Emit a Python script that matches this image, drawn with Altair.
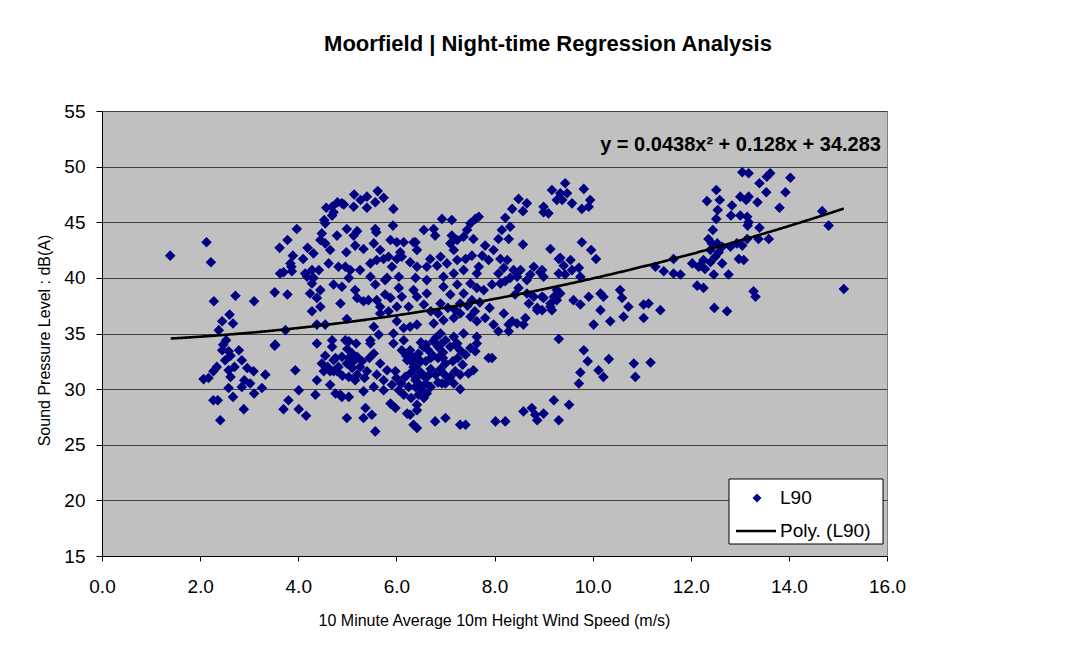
import altair as alt
import pandas as pd

# ---- data (wind speed m/s, L90 dB(A)) ----
band_below_4 = [
    (1.39, 42.0), (2.13, 43.2), (2.22, 41.4), (2.28, 37.9), (2.72, 38.4), (3.10, 37.9),
    (3.52, 38.7), (3.78, 38.5), (3.62, 42.7), (3.78, 43.4), (3.97, 44.4), (3.89, 42.0),
    (3.86, 41.0), (3.87, 40.6), (3.63, 40.4), (3.70, 40.5), (3.84, 41.3),
    (2.60, 36.7), (2.45, 36.1), (2.38, 35.3), (2.67, 35.9), (2.53, 34.4), (2.45, 33.5),
    (2.58, 33.4), (2.51, 32.6), (2.79, 33.5), (2.85, 32.6), (2.34, 32.0), (2.27, 31.6),
    (2.07, 30.9), (2.17, 31.0), (2.62, 31.1), (2.58, 31.7), (2.96, 31.9), (3.09, 31.6),
    (3.33, 31.3), (2.90, 30.8), (3.02, 30.5), (2.85, 30.2), (2.58, 30.1), (3.26, 30.1),
    (3.10, 29.6), (2.67, 29.3), (2.27, 29.0), (2.36, 29.0), (2.89, 28.2), (2.41, 27.2),
    (3.52, 33.9), (3.74, 35.3), (3.94, 31.7), (3.80, 29.0), (3.70, 28.2), (2.47, 34.0),
    (2.62, 33.0), (2.70, 32.0), (3.53, 34.0),
]
band_4_to_6 = [
    (4.01, 28.2), (4.16, 27.6), (4.01, 29.9), (4.10, 41.7), (4.19, 42.7), (4.31, 42.2),
    (4.57, 46.3), (4.53, 45.2), (4.72, 45.9), (4.80, 46.8), (4.93, 46.6), (4.69, 46.4),
    (4.89, 46.7), (4.69, 45.6), (4.55, 44.9), (4.48, 44.0), (4.45, 43.4), (4.55, 43.1),
    (4.65, 42.5), (4.79, 43.8), (4.99, 44.4), (5.20, 44.2), (5.13, 43.8),
    (5.14, 47.5), (5.40, 47.3), (5.62, 47.8), (5.74, 47.2), (5.57, 46.8), (5.13, 46.4),
    (5.40, 46.3), (5.94, 46.2), (5.27, 47.0), (5.93, 44.7), (5.57, 44.4), (5.59, 44.1),
    (4.98, 42.3), (5.16, 42.9), (5.33, 42.6), (5.54, 43.1), (5.67, 42.5), (5.88, 43.4),
    (4.28, 40.7), (4.42, 40.7), (4.62, 41.3), (4.14, 40.4), (4.31, 40.0), (4.24, 38.6),
    (4.45, 38.9), (4.38, 38.2), (4.28, 37.0), (4.45, 37.4), (4.86, 37.7), (4.72, 39.4),
    (4.89, 39.2), (4.96, 41.0), (4.82, 41.0), (5.06, 40.7), (5.26, 40.7), (5.47, 41.3),
    (5.60, 41.6), (5.74, 41.7), (5.84, 41.9), (5.91, 41.0), (5.81, 40.0),
    (4.18, 40.1), (4.28, 39.5), (5.03, 40.0), (5.16, 38.9), (5.47, 40.1), (5.57, 39.4),
    (5.77, 39.8), (5.88, 38.2), (5.77, 38.5), (5.20, 38.2), (5.43, 38.0), (5.60, 38.0),
    (5.67, 37.4), (4.38, 35.8), (4.55, 35.8), (4.99, 36.3), (5.33, 37.9), (5.67, 36.8),
    (5.84, 37.0), (5.54, 35.6), (5.64, 34.9), (5.47, 34.4), (5.94, 35.0),
    (4.38, 34.1), (4.69, 34.4), (4.69, 33.8), (5.03, 34.3), (5.18, 34.1), (5.10, 33.2),
    (5.47, 34.1), (5.54, 33.2), (5.94, 34.1), (4.48, 32.3), (4.76, 32.8), (4.72, 31.6),
    (4.86, 29.5), (4.76, 29.6), (4.99, 27.4), (4.96, 34.4), (4.99, 32.3), (4.38, 30.8),
    (4.35, 29.5), (4.72, 32.6), (4.89, 32.9), (5.03, 32.8), (5.13, 32.5), (4.82, 32.0),
    (5.10, 31.9), (5.26, 32.0), (5.40, 31.6), (5.03, 31.1), (5.20, 31.3), (4.52, 31.6),
    (4.65, 31.6), (4.79, 31.6), (5.16, 30.8), (5.67, 32.3), (5.81, 31.7), (5.98, 31.6),
    (5.74, 30.8), (5.91, 30.4), (4.89, 29.3), (5.03, 29.3), (5.33, 29.8), (5.54, 30.2),
    (5.74, 29.9), (5.37, 28.3), (5.50, 27.7), (5.33, 27.4), (5.57, 26.2), (5.88, 28.7),
    (5.98, 28.3), (4.60, 32.0), (4.90, 31.2), (5.30, 32.5), (5.00, 33.6), (4.55, 33.0),
    (5.20, 32.9), (5.35, 31.0), (4.65, 30.4), (5.45, 32.8), (5.60, 31.3),
]
band_6_to_8 = [
    (6.01, 43.2), (6.15, 43.2), (6.35, 43.2), (6.08, 42.3), (6.01, 41.7), (6.11, 41.9),
    (6.28, 41.4), (6.42, 41.0), (6.05, 40.1), (6.05, 39.1), (6.11, 38.3), (6.35, 38.9),
    (6.01, 37.4), (6.25, 37.4), (6.01, 36.1), (6.15, 35.5), (6.28, 35.6), (6.15, 34.4),
    (6.11, 33.5), (6.28, 33.1), (6.05, 29.9), (6.18, 31.1), (6.35, 32.0), (6.22, 32.6),
    (6.28, 33.5), (6.42, 32.8), (6.39, 30.8), (6.22, 27.8), (6.35, 26.8), (6.42, 28.6),
    (6.20, 33.0), (6.30, 32.5), (6.40, 32.0), (6.45, 33.2), (6.30, 31.5), (6.40, 31.0),
    (6.45, 30.5), (6.25, 30.2), (6.50, 32.5), (6.50, 31.5), (6.55, 33.8), (6.65, 33.5),
    (6.75, 33.0), (6.85, 32.8), (6.95, 33.3), (7.00, 32.3), (6.60, 32.5), (6.70, 31.8),
    (6.80, 31.3), (6.90, 31.8), (7.05, 31.0), (7.10, 33.8), (6.55, 31.2), (6.60, 30.5),
    (6.70, 30.2), (6.50, 30.0), (7.00, 30.5), (7.15, 32.5), (6.90, 34.0), (6.75, 34.3),
    (6.60, 34.0), (6.80, 34.6), (7.00, 34.4), (7.20, 34.0), (7.30, 33.5), (7.25, 32.8),
    (7.35, 32.2), (6.95, 32.8), (6.70, 32.8), (6.85, 33.8), (6.50, 34.2), (6.65, 31.2),
    (6.85, 30.6), (7.20, 31.6), (6.45, 29.5), (7.30, 30.0), (6.10, 30.5), (6.15, 29.5),
    (6.30, 29.2), (6.00, 31.0),
    (6.93, 45.3), (7.13, 45.2), (7.61, 45.3), (7.68, 45.5), (7.51, 44.9), (7.44, 44.3),
    (6.56, 44.3), (6.76, 44.4), (6.79, 43.8), (6.39, 43.2), (6.42, 42.5), (7.13, 43.8),
    (7.24, 43.4), (7.10, 43.1), (7.37, 43.7), (7.57, 43.5), (7.17, 42.5), (7.81, 42.9),
    (7.98, 42.5), (7.75, 42.0), (7.88, 41.6), (7.68, 41.0), (6.69, 41.7), (6.90, 41.9),
    (6.83, 41.1), (7.03, 41.3), (7.24, 41.6), (7.41, 41.7), (7.54, 42.0), (6.62, 41.0),
    (6.39, 40.0), (6.62, 39.8), (6.96, 40.1), (7.17, 40.4), (7.37, 40.7), (7.64, 40.4),
    (7.51, 39.5), (7.24, 39.4), (6.96, 39.2), (6.62, 38.6), (6.42, 38.3), (7.10, 38.5),
    (7.37, 38.6), (7.64, 39.1), (7.78, 38.9), (7.95, 39.4), (7.54, 38.0), (7.30, 37.7),
    (6.90, 37.7), (6.56, 37.6), (6.70, 37.0), (6.85, 36.8), (7.05, 37.3), (7.20, 37.1),
    (7.45, 37.5), (7.70, 37.8), (7.90, 37.3), (7.60, 37.0),
    (6.76, 35.9), (6.96, 36.2), (7.17, 36.4), (7.30, 36.8), (7.51, 36.5), (7.64, 36.1),
    (7.81, 36.4), (7.98, 35.8), (6.42, 35.8), (6.90, 35.0), (7.17, 34.7), (7.37, 35.0),
    (7.64, 34.7), (7.24, 34.1), (7.51, 33.7), (7.41, 33.1), (7.61, 33.4), (7.64, 34.1),
    (7.88, 32.8), (7.95, 32.8), (7.57, 31.7), (7.47, 31.4), (7.30, 31.3), (7.10, 31.1),
    (6.96, 31.4), (7.17, 30.5), (6.93, 30.5), (6.62, 29.6), (6.49, 30.1), (6.39, 30.2),
    (6.56, 29.2), (6.42, 28.1), (6.28, 27.7), (6.42, 26.5), (6.79, 27.1), (7.00, 27.4),
    (7.30, 26.8), (7.41, 26.8),
]
band_8_to_10 = [
    (9.17, 47.9), (9.27, 47.0), (8.49, 47.1), (8.66, 46.7), (8.58, 46.0), (8.36, 46.2),
    (8.22, 45.4), (9.00, 46.4), (9.10, 45.8), (8.32, 44.6), (8.15, 44.3), (8.29, 43.5),
    (8.08, 43.5), (8.58, 43.0), (9.14, 42.6), (9.31, 41.7), (8.12, 41.7), (8.26, 41.6),
    (8.19, 40.9), (8.08, 40.4), (8.53, 40.7), (8.32, 40.0), (8.66, 39.8), (8.80, 41.0),
    (8.97, 40.7), (8.49, 39.1), (8.12, 39.5), (8.66, 38.6), (8.97, 38.3), (9.14, 37.7),
    (9.27, 38.9), (9.27, 38.0), (9.44, 48.5), (9.82, 48.0), (9.34, 47.6), (9.48, 47.6),
    (9.38, 47.0), (9.58, 46.7), (9.95, 47.0), (9.78, 46.2), (9.92, 46.4), (9.00, 45.9),
    (9.78, 43.2), (9.97, 42.5), (9.34, 41.8), (9.55, 41.6), (9.41, 41.1), (9.72, 40.9),
    (9.31, 40.4), (9.44, 40.3), (9.75, 40.1), (9.58, 40.7), (8.39, 40.7), (8.93, 40.5),
    (9.00, 40.1), (8.73, 40.3), (8.46, 40.1), (8.22, 39.7), (8.42, 38.5), (8.80, 38.3),
    (9.00, 38.2), (9.21, 38.3), (9.34, 38.6), (9.61, 38.0), (9.75, 37.6), (9.92, 38.3),
    (9.17, 37.1), (8.87, 37.1), (8.97, 37.1), (8.63, 36.4), (8.59, 35.8), (8.36, 36.1),
    (8.29, 35.2), (8.08, 35.2), (8.19, 36.8), (8.29, 35.8), (8.46, 35.9), (8.70, 37.7),
    (8.87, 37.3), (9.14, 37.4), (9.31, 34.5), (9.82, 33.5), (9.90, 32.5), (9.75, 31.5),
    (9.72, 30.5), (8.02, 27.1), (8.22, 27.1), (8.59, 28.0), (8.76, 28.3), (8.83, 27.7),
    (8.87, 27.2), (9.00, 27.8), (9.21, 29.0), (9.31, 27.2), (9.52, 28.6),
]
band_above_10 = [
    (10.07, 41.7), (10.16, 38.6), (10.22, 38.3), (10.56, 38.9), (10.60, 38.2), (10.73, 37.4),
    (10.16, 37.1), (10.36, 36.1), (10.63, 36.5), (11.04, 37.6), (11.14, 37.7), (11.04, 36.4),
    (11.38, 37.1), (10.02, 35.8), (10.33, 32.7), (10.12, 31.7), (10.22, 31.1), (10.84, 32.3),
    (11.18, 32.4), (10.87, 31.1), (11.28, 41.0), (11.45, 40.6), (11.65, 41.7), (11.65, 40.4),
    (11.79, 40.3), (12.03, 41.3), (12.16, 41.0), (12.13, 39.3),
    (13.05, 49.5), (13.18, 49.4), (13.62, 49.4), (13.55, 49.1), (14.03, 49.0), (13.40, 48.5),
    (13.54, 47.7), (13.93, 47.7), (12.52, 47.9), (12.33, 46.9), (12.59, 47.0), (12.55, 46.1),
    (12.84, 46.5), (13.01, 47.3), (13.18, 47.3), (13.13, 47.0), (13.36, 46.8), (12.82, 45.6),
    (13.01, 45.6), (13.15, 45.5), (13.18, 45.0), (13.16, 44.7), (12.52, 45.3), (12.45, 44.3),
    (13.40, 44.5), (13.81, 46.3), (14.68, 46.0), (14.81, 44.7), (12.36, 43.5), (12.43, 43.1),
    (12.54, 43.1), (12.64, 42.8), (12.40, 42.5), (12.57, 42.3), (12.50, 41.9), (12.81, 42.8),
    (12.94, 43.1), (13.05, 42.9), (13.15, 43.5), (13.38, 43.5), (13.59, 43.5), (12.98, 41.7),
    (13.08, 41.6), (12.64, 41.3), (12.40, 41.4), (12.26, 41.6), (12.19, 41.1), (12.29, 40.8),
    (12.47, 40.3), (12.77, 40.3), (12.26, 39.1), (13.28, 38.8), (13.32, 38.3), (12.48, 37.3),
    (12.74, 37.0), (15.12, 39.0),
]

# polynomial trendline shown on the chart: y = a x^2 + b x + c
trend_coeffs = [0.0438, 0.128, 34.283]
trend_range = [1.4, 15.12]
equation_label = "y = 0.0438x\u00b2 + 0.128x + 34.283"

x_ticks = [0, 2, 4, 6, 8, 10, 12, 14, 16]
y_ticks = [15, 20, 25, 30, 35, 40, 45, 50, 55]

title_text = "Moorfield | Night-time Regression Analysis"
x_title = "10 Minute Average 10m Height Wind Speed (m/s)"
y_title = "Sound Pressure Level : dB(A)"
legend_labels = ["L90", "Poly. (L90)"]

# ---- build chart ----
points = band_below_4 + band_4_to_6 + band_6_to_8 + band_8_to_10 + band_above_10
df = pd.DataFrame(points, columns=["wind", "l90"])

FONT = "Liberation Sans"
NAVY = "#000080"
W, H = 785, 445

x_scale = alt.Scale(domain=[0, 16], nice=False, zero=False)
y_scale = alt.Scale(domain=[15, 55], nice=False, zero=False)

x_axis = alt.Axis(values=x_ticks, format=".1f", grid=False, title=x_title,
                  labelFontSize=19, labelPadding=16, tickSize=5, tickColor="black",
                  domainColor="black", labelColor="black", labelFlush=False,
                  labelOverlap=False, titleFontSize=16,
                  titleFontWeight="normal", titleColor="black", titleX=392,
                  titleY=64, titleBaseline="middle", titleAlign="center")
y_axis = alt.Axis(values=y_ticks, grid=True, gridColor="#404040", gridWidth=1,
                  title=y_title, labelFontSize=19, labelPadding=11, tickSize=6,
                  tickColor="black", domainColor="black", labelColor="black",
                  labelFlush=False, labelOverlap=False,
                  titleFontSize=16, titleFontWeight="normal", titleColor="black",
                  titleX=-58, titleY=229, titleBaseline="middle", titleAlign="center",
                  titleAngle=-90)

scatter = alt.Chart(df).mark_point(
    shape="diamond", filled=True, size=112, color=NAVY, opacity=1
).encode(
    x=alt.X("wind:Q", scale=x_scale, axis=x_axis),
    y=alt.Y("l90:Q", scale=y_scale, axis=y_axis),
)

a, b, c = trend_coeffs
trend = alt.Chart(alt.sequence(trend_range[0], trend_range[1] + 0.001, 0.02, as_="wind")).transform_calculate(
    l90=f"{a}*datum.wind*datum.wind + {b}*datum.wind + {c}"
).mark_line(color="black", strokeWidth=2.6).encode(
    x=alt.X("wind:Q", scale=x_scale),
    y=alt.Y("l90:Q", scale=y_scale),
)

one = alt.Data(values=[{"k": 0}])

equation = alt.Chart(one).mark_text(
    text=equation_label, font=FONT, fontSize=20, fontWeight="bold",
    align="right", baseline="middle", color="black"
).encode(x=alt.value(779), y=alt.value(34))

title = alt.Chart(one).mark_text(
    text=title_text, font=FONT, fontSize=22, fontWeight="bold",
    align="center", baseline="middle", color="black"
).encode(x=alt.value(446), y=alt.value(-67))

legend_box = alt.Chart(one).mark_rect(
    fill="white", stroke="black", strokeWidth=1
).encode(x=alt.value(627), x2=alt.value(781), y=alt.value(368), y2=alt.value(433))

legend_sym = alt.Chart(one).mark_point(
    shape="diamond", filled=True, size=80, color=NAVY, opacity=1
).encode(x=alt.value(655), y=alt.value(387))

legend_line = alt.Chart(one).mark_rule(color="black", strokeWidth=2.6).encode(
    x=alt.value(634), x2=alt.value(674), y=alt.value(420)
)

legend_t1 = alt.Chart(one).mark_text(
    text=legend_labels[0], font=FONT, fontSize=19, align="left",
    baseline="middle", color="black"
).encode(x=alt.value(678), y=alt.value(387))

legend_t2 = alt.Chart(one).mark_text(
    text=legend_labels[1], font=FONT, fontSize=19, align="left",
    baseline="middle", color="black"
).encode(x=alt.value(678), y=alt.value(420))

chart = alt.layer(
    scatter, trend, equation, title, legend_box, legend_sym, legend_line,
    legend_t1, legend_t2
).properties(
    width=W, height=H,
    autosize=alt.AutoSizeParams(type="none"),
    padding={"left": 94, "top": 103, "right": 180, "bottom": 80},
    background="white",
).configure_view(
    fill="#C0C0C0", stroke="#808080", strokeWidth=1
).configure_axis(
    labelFont=FONT, titleFont=FONT
)

chart.save("out.html", embed_options={"renderer": "svg", "actions": False})
